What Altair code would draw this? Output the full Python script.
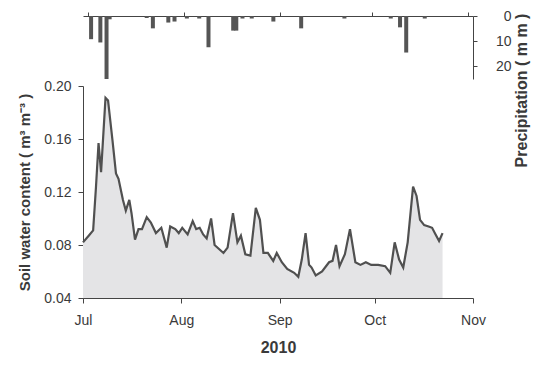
import altair as alt
import pandas as pd

# Soil water content (days after 1 Jul 2010, m3 m-3)
swc_days = [0, 1.8, 3.2, 4.1, 4.9, 5.7, 7.1, 7.9, 9.3, 10.4,
            11.2, 12.6, 13.5, 14.6, 15.3, 16.4, 17.5, 18.6, 20.1, 21.4,
            23, 24.7, 26.4, 27.5, 29.1, 30.2, 31.3, 33, 34.6, 35.7,
            36.8, 37.9, 39, 40.4, 41.5, 42.9, 44.3, 45.6, 47.3, 48.7,
            49.8, 51.2, 52.8, 54.5, 55.8, 56.9, 58.3, 60, 61.1, 62.7,
            64.4, 66.6, 67.9, 69, 70.2, 71.3, 72.1, 73.4, 75.4, 77.6,
            78.7, 79.8, 80.9, 82.6, 84.2, 85.9, 87.5, 89.2, 90.9, 93.1,
            95.3, 96.9, 98.3, 99.7, 101, 102.4, 104.1, 105.2, 106.3, 107.6,
            109, 110.1, 111.2, 112.3, 113.4]
swc_vals = [0.082, 0.087, 0.091, 0.124, 0.157, 0.135, 0.191, 0.189, 0.159, 0.134,
            0.130, 0.114, 0.106, 0.114, 0.104, 0.084, 0.092, 0.092, 0.101, 0.097,
            0.089, 0.093, 0.078, 0.094, 0.092, 0.089, 0.093, 0.088, 0.098, 0.092,
            0.093, 0.088, 0.085, 0.100, 0.080, 0.077, 0.074, 0.078, 0.104, 0.082,
            0.087, 0.073, 0.072, 0.108, 0.099, 0.074, 0.074, 0.068, 0.074, 0.067,
            0.062, 0.059, 0.056, 0.069, 0.089, 0.065, 0.063, 0.057, 0.060, 0.067,
            0.068, 0.080, 0.064, 0.073, 0.092, 0.067, 0.065, 0.067, 0.065, 0.065,
            0.064, 0.059, 0.082, 0.069, 0.063, 0.082, 0.124, 0.117, 0.099, 0.095,
            0.094, 0.093, 0.088, 0.083, 0.089]

# Daily precipitation (mm)
rain_dates = ["2010-07-02", "2010-07-05", "2010-07-07", "2010-07-08", "2010-07-20",
              "2010-07-22", "2010-07-27", "2010-07-29", "2010-08-02", "2010-08-06",
              "2010-08-09", "2010-08-17", "2010-08-18", "2010-08-20", "2010-08-23",
              "2010-08-30", "2010-09-08", "2010-09-22", "2010-10-07", "2010-10-10",
              "2010-10-12", "2010-10-18"]
rain_mm = [9.2, 10.5, 25, 1.3, 0.8,
           4.9, 2.6, 2.2, 1.0, 1.0,
           12.4, 5.8, 5.8, 1.0, 1.0,
           2.2, 4.9, 1.0, 1.0, 4.5,
           14.5, 1.0]

month_labels = ["Jul", "Aug", "Sep", "Oct", "Nov"]
swc_ticks = [0.04, 0.08, 0.12, 0.16, 0.20]
rain_ticks = [0, 10, 20]

start = pd.Timestamp("2010-07-01")
swc_df = pd.DataFrame({
    "date": start + pd.to_timedelta(swc_days, unit="D"),
    "swc": swc_vals,
})
rain_df = pd.DataFrame({"date": pd.to_datetime(rain_dates), "mm": rain_mm})

months = [alt.DateTime(year=2010, month=m, date=1) for m in month_labels]
xdomain = [months[0], months[-1]]

FONT = "Liberation Sans"
AX = "#444444"
TXT = "#3a3a3a"

xscale = alt.Scale(domain=xdomain)

top = alt.Chart(rain_df).mark_bar(size=4, color="#555555").encode(
    x=alt.X("date:T", scale=xscale,
            axis=alt.Axis(orient="top", values=months, labels=False, title=None,
                          grid=False, tickSize=4, domainColor=AX, tickColor=AX)),
    y=alt.Y("mm:Q", scale=alt.Scale(domain=[0, 25], reverse=True),
            axis=alt.Axis(orient="right", values=rain_ticks, grid=False, tickSize=4,
                          domainColor=AX, tickColor=AX, labelColor=TXT,
                          labelFontSize=14, labelFont=FONT, labelPadding=34,
                          labelAlign="right",
                          title="Precipitation ( m m )", titleAngle=270,
                          titleFont=FONT, titleFontSize=16, titleFontWeight="bold",
                          titleColor=TXT, titleAlign="center", titleBaseline="middle",
                          titleX=48, titleY=74)),
).properties(width=390, height=63)

base = alt.Chart(swc_df).encode(
    x=alt.X("date:T", scale=xscale,
            axis=alt.Axis(values=months, format="%b", grid=False, tickSize=5,
                          labelFlush=False,
                          domainColor=AX, tickColor=AX, labelColor=TXT,
                          labelFontSize=14, labelFont=FONT, labelPadding=10,
                          title="2010", titleFont=FONT, titleFontSize=16,
                          titleFontWeight="bold", titleColor=TXT, titlePadding=12)),
    y=alt.Y("swc:Q", scale=alt.Scale(domain=[0.04, 0.20]),
            axis=alt.Axis(values=swc_ticks, format=".2f", grid=False, tickSize=5,
                          domainColor=AX, tickColor=AX, labelColor=TXT,
                          labelFontSize=14, labelFont=FONT, labelPadding=7,
                          title="Soil water content ( m³ m⁻³ )", titleFont=FONT,
                          titleFontSize=15, titleFontWeight="bold", titleColor=TXT,
                          titlePadding=11)),
)
area = base.mark_area(color="#e4e4e6").encode(y2=alt.datum(0.04))
line = base.mark_line(color="#505050", strokeWidth=2.2)
bottom = (area + line).properties(width=390, height=212)

chart = alt.vconcat(top, bottom, spacing=7, bounds="flush").properties(
    padding={"left": 17, "top": 9, "right": 5, "bottom": 5}
).configure_view(stroke=None)

chart.save("out.html", embed_options={"renderer": "svg", "actions": False})
